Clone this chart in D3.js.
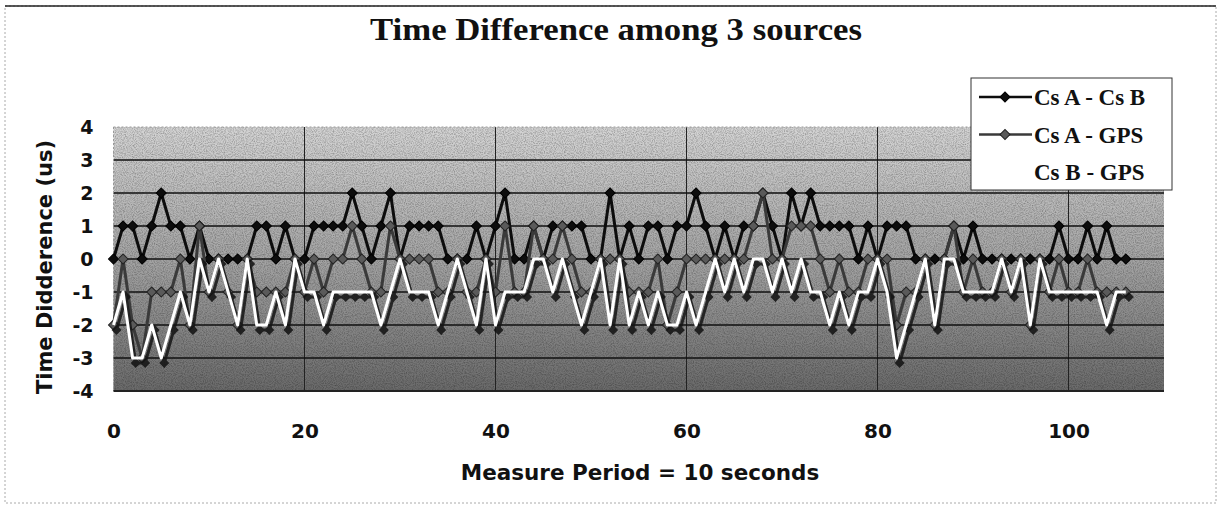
<!DOCTYPE html>
<html>
<head>
<meta charset="utf-8">
<script src="https://cdn.jsdelivr.net/npm/d3@7"></script>
<style>
	body { margin: 0; background: #fff; }
	svg { display: block; }
</style>
</head>
<body>
<div id="chart"></div>
<script>

// measure index (one point per 10 s period)
var periods = d3.range(0, 107);

var xTicks = [0, 20, 40, 60, 80, 100];
var yTicks = [-4, -3, -2, -1, 0, 1, 2, 3, 4];

var seriesNames = ["Cs A - Cs B", "Cs A - GPS", "Cs B - GPS"];

var csAcsB = [0,1,1,0,1,2,1,1,0,1, 0,0,0,0,0,1,1,0,1,0,
	0,1,1,1,1,2,1,0,1,2, 0,1,1,1,1,0,0,0,1,0,
	1,2,0,0,1,0,1,1,1,1, 0,0,2,0,1,0,1,1,0,1,
	1,2,1,0,1,0,1,1,2,1, 0,2,1,2,1,1,1,1,0,1,
	0,1,1,1,0,0,0,0,1,0, 1,0,0,0,0,0,0,0,0,1,
	0,0,1,0,1,0,0];

var csAgps = [-2,0,-2,-3,-1,-1,-1,0,-2,1, -1,0,-1,-2,0,-1,-1,-1,-1,0,
	-1,0,-1,0,0,1,0,-1,-1,1, 0,0,0,0,-1,-1,0,-1,-1,0,
	-1,1,-1,-1,1,0,0,1,0,-1, -1,0,0,0,-1,-1,-1,0,-2,-1,
	0,0,0,0,0,0,0,1,2,0, 0,1,1,1,0,-1,0,-1,-1,0,
	0,0,-2,-1,-1,0,-2,0,1,-1, 0,-1,-1,0,-1,0,-2,0,-1,0,
	-1,-1,0,-1,-1,-1,-1];

var csBgps = [-2,-1,-3,-3,-2,-3,-2,-1,-2,0, -1,0,-1,-2,0,-2,-2,-1,-2,0,
	-1,-1,-2,-1,-1,-1,-1,-1,-2,-1, 0,-1,-1,-1,-2,-1,0,-1,-2,0,
	-2,-1,-1,-1,0,0,-1,0,-1,-2, -1,0,-2,0,-2,-1,-2,-1,-2,-2,
	-1,-2,-1,0,-1,0,-1,0,0,-1, 0,-1,0,-1,-1,-2,-1,-2,-1,-1,
	0,-1,-3,-2,-1,0,-2,0,0,-1, -1,-1,-1,0,-1,0,-2,0,-1,-1,
	-1,-1,-1,-1,-2,-1,-1];

function createChart() {

	var width = 1221,
		height = 508,
		plotLeft = 113.5,
		plotRight = 1164,
		plotTop = 127,
		plotBottom = 391;

	var svg = d3.select("#chart").append("svg")
		.attr("width", width)
		.attr("height", height);

	var defs = svg.append("defs");

	var grad = defs.append("linearGradient")
		.attr("id", "bg")
		.attr("x1", 0).attr("y1", 0)
		.attr("x2", 0).attr("y2", 1);
	grad.append("stop").attr("offset", "0%").attr("stop-color", "#d4d4d4");
	grad.append("stop").attr("offset", "50%").attr("stop-color", "#a4a4a4");
	grad.append("stop").attr("offset", "100%").attr("stop-color", "#6a6a6a");

	// speckle, to look a bit like the printed dither
	var noise = defs.append("filter").attr("id", "noise")
		.attr("x", 0).attr("y", 0).attr("width", "100%").attr("height", "100%");
	noise.append("feTurbulence")
		.attr("type", "fractalNoise")
		.attr("baseFrequency", 0.9)
		.attr("numOctaves", 2)
		.attr("seed", 3);
	noise.append("feColorMatrix")
		.attr("type", "matrix")
		.attr("values", "0 0 0 0 0  0 0 0 0 0  0 0 0 0 0  0 0 0 -1.6 1.0");

	var x = d3.scaleLinear().domain([0, 110]).range([plotLeft, plotRight]);
	var y = d3.scaleLinear().domain([-4, 4]).range([plotBottom, plotTop]);

	// outer frame
	svg.append("rect")
		.attr("x", 5).attr("y", 6)
		.attr("width", 1211).attr("height", 497)
		.style("fill", "none")
		.style("stroke", "#aaa")
		.style("stroke-dasharray", "2,2");
	svg.append("line")
		.attr("x1", 5).attr("x2", 1216)
		.attr("y1", 6).attr("y2", 6)
		.style("stroke", "#222")
		.style("stroke-width", 1.5);

	// plot area
	svg.append("rect")
		.attr("x", plotLeft).attr("y", plotTop)
		.attr("width", plotRight - plotLeft).attr("height", plotBottom - plotTop)
		.style("fill", "url(#bg)");
	svg.append("rect")
		.attr("x", plotLeft).attr("y", plotTop)
		.attr("width", plotRight - plotLeft).attr("height", plotBottom - plotTop)
		.attr("filter", "url(#noise)")
		.style("opacity", 0.35);

	svg.append("g").selectAll("line")
		.data(xTicks.slice(1))
		.enter().append("line")
		.attr("x1", function(d) { return x(d); })
		.attr("x2", function(d) { return x(d); })
		.attr("y1", plotTop).attr("y2", plotBottom)
		.style("stroke", "#222")
		.style("stroke-width", 1);

	svg.append("g").selectAll("line")
		.data(yTicks.filter(function(d) { return d > -4 && d < 4; }))
		.enter().append("line")
		.attr("x1", plotLeft).attr("x2", plotRight)
		.attr("y1", function(d) { return y(d); })
		.attr("y2", function(d) { return y(d); })
		.style("stroke", "#111")
		.style("stroke-width", 1.6);

	svg.append("line")
		.attr("x1", plotLeft).attr("x2", plotRight)
		.attr("y1", plotTop).attr("y2", plotTop)
		.style("stroke", "#999")
		.style("stroke-dasharray", "2,2");
	svg.append("line")
		.attr("x1", plotLeft).attr("x2", plotLeft)
		.attr("y1", plotTop).attr("y2", plotBottom)
		.style("stroke", "#999")
		.style("stroke-dasharray", "2,2");
	svg.append("line")
		.attr("x1", plotLeft).attr("x2", plotRight)
		.attr("y1", plotBottom).attr("y2", plotBottom)
		.style("stroke", "#222")
		.style("stroke-width", 2);

	// axes
	var xAxis = svg.append("g")
		.attr("transform", "translate(0," + plotBottom + ")")
		.call(d3.axisBottom(x).tickValues(xTicks).tickSize(0)
			.tickFormat(function(d) { return String(d); }));
	xAxis.select(".domain").remove();
	xAxis.selectAll("text")
		.attr("y", 47).attr("dy", "0")
		.style("font-family", "'DejaVu Sans', sans-serif")
		.style("font-weight", "bold")
		.style("font-size", "20px")
		.style("fill", "#111");

	var yAxis = svg.append("g")
		.attr("transform", "translate(" + plotLeft + ",0)")
		.call(d3.axisLeft(y).tickValues(yTicks).tickSize(0)
			.tickFormat(function(d) { return String(d); }));
	yAxis.select(".domain").remove();
	yAxis.selectAll("text")
		.attr("x", -20)
		.style("font-family", "'DejaVu Sans', sans-serif")
		.style("font-weight", "bold")
		.style("font-size", "19px")
		.style("fill", "#111");

	svg.append("text")
		.attr("x", 640).attr("y", 480)
		.attr("text-anchor", "middle")
		.style("font-family", "'DejaVu Sans', sans-serif")
		.style("font-weight", "bold")
		.style("font-size", "21.5px")
		.style("fill", "#111")
		.text("Measure Period = 10 seconds");

	svg.append("text")
		.attr("transform", "translate(52,267) rotate(-90)")
		.attr("text-anchor", "middle")
		.style("font-family", "'DejaVu Sans', sans-serif")
		.style("font-weight", "bold")
		.style("font-size", "21px")
		.style("fill", "#111")
		.text("Time Didderence (us)");

	svg.append("text")
		.attr("x", 370).attr("y", 40)
		.attr("textLength", 492)
		.attr("lengthAdjust", "spacingAndGlyphs")
		.style("font-family", "'Liberation Serif', serif")
		.style("font-weight", "bold")
		.style("font-size", "31px")
		.style("fill", "#111")
		.text("Time Difference among 3 sources");

	// series
	var line = d3.line()
		.x(function(d, i) { return x(periods[i]); })
		.y(function(d) { return y(d); });

	var diamond = d3.symbol().type(d3.symbolSquare).size(50);

	var series = [
		{ values: csAcsB, stroke: "#0d0d0d", fill: "#0d0d0d", mark: "#000", shadow: false },
		{ values: csAgps, stroke: "#3a3a3a", fill: "#5a5a5a", mark: "#222", shadow: false },
		{ values: csBgps, stroke: "#ffffff", fill: "#ffffff", mark: "#eee", shadow: true }
	];

	for (var i = 0; i < series.length; i++) {
		var s = series[i];
		var g = svg.append("g");

		if (s.shadow) {
			var sh = g.append("g")
				.attr("transform", "translate(3,5)")
				.style("opacity", 0.85);
			sh.append("path")
				.attr("d", line(s.values))
				.style("fill", "none")
				.style("stroke", "#151515")
				.style("stroke-width", 3);
			sh.selectAll("path.pt")
				.data(s.values)
				.enter().append("path")
				.attr("class", "pt")
				.attr("d", diamond)
				.attr("transform", function(d, j) {
					return "translate(" + x(periods[j]) + "," + y(d) + ") rotate(45)";
				})
				.style("fill", "#111");
		}

		g.append("path")
			.attr("d", line(s.values))
			.style("fill", "none")
			.style("stroke", s.stroke)
			.style("stroke-width", 3)
			.style("stroke-linejoin", "round");

		g.selectAll("path.pt")
			.data(s.values)
			.enter().append("path")
			.attr("class", "pt")
			.attr("d", diamond)
			.attr("transform", function(d, j) {
				return "translate(" + x(periods[j]) + "," + y(d) + ") rotate(45)";
			})
			.style("fill", s.fill)
			.style("stroke", s.mark)
			.style("stroke-width", 1);
	}

	// legend
	var legend = svg.append("g").attr("transform", "translate(971,78)");
	legend.append("rect")
		.attr("width", 201).attr("height", 112)
		.style("fill", "#fff")
		.style("stroke", "#333")
		.style("stroke-width", 1);

	var rows = legend.selectAll("g.row")
		.data(seriesNames)
		.enter().append("g")
		.attr("class", "row")
		.attr("transform", function(d, k) { return "translate(0," + (19 + k * 37.5) + ")"; });

	rows.append("line")
		.attr("x1", 8).attr("x2", 61)
		.attr("y1", 0).attr("y2", 0)
		.style("stroke", function(d, k) { return series[k].stroke; })
		.style("stroke-width", 2.5);
	rows.append("path")
		.attr("d", diamond)
		.attr("transform", "translate(34,0) rotate(45)")
		.style("fill", function(d, k) { return series[k].fill; })
		.style("stroke", function(d, k) { return k == 2 ? "none" : series[k].mark; });
	rows.append("text")
		.attr("x", 63).attr("y", 0).attr("dy", "0.35em")
		.style("font-family", "'Liberation Serif', serif")
		.style("font-weight", "bold")
		.style("font-size", "23px")
		.style("fill", "#111")
		.text(function(d) { return d; });
}

createChart();

</script>
</body>
</html>
